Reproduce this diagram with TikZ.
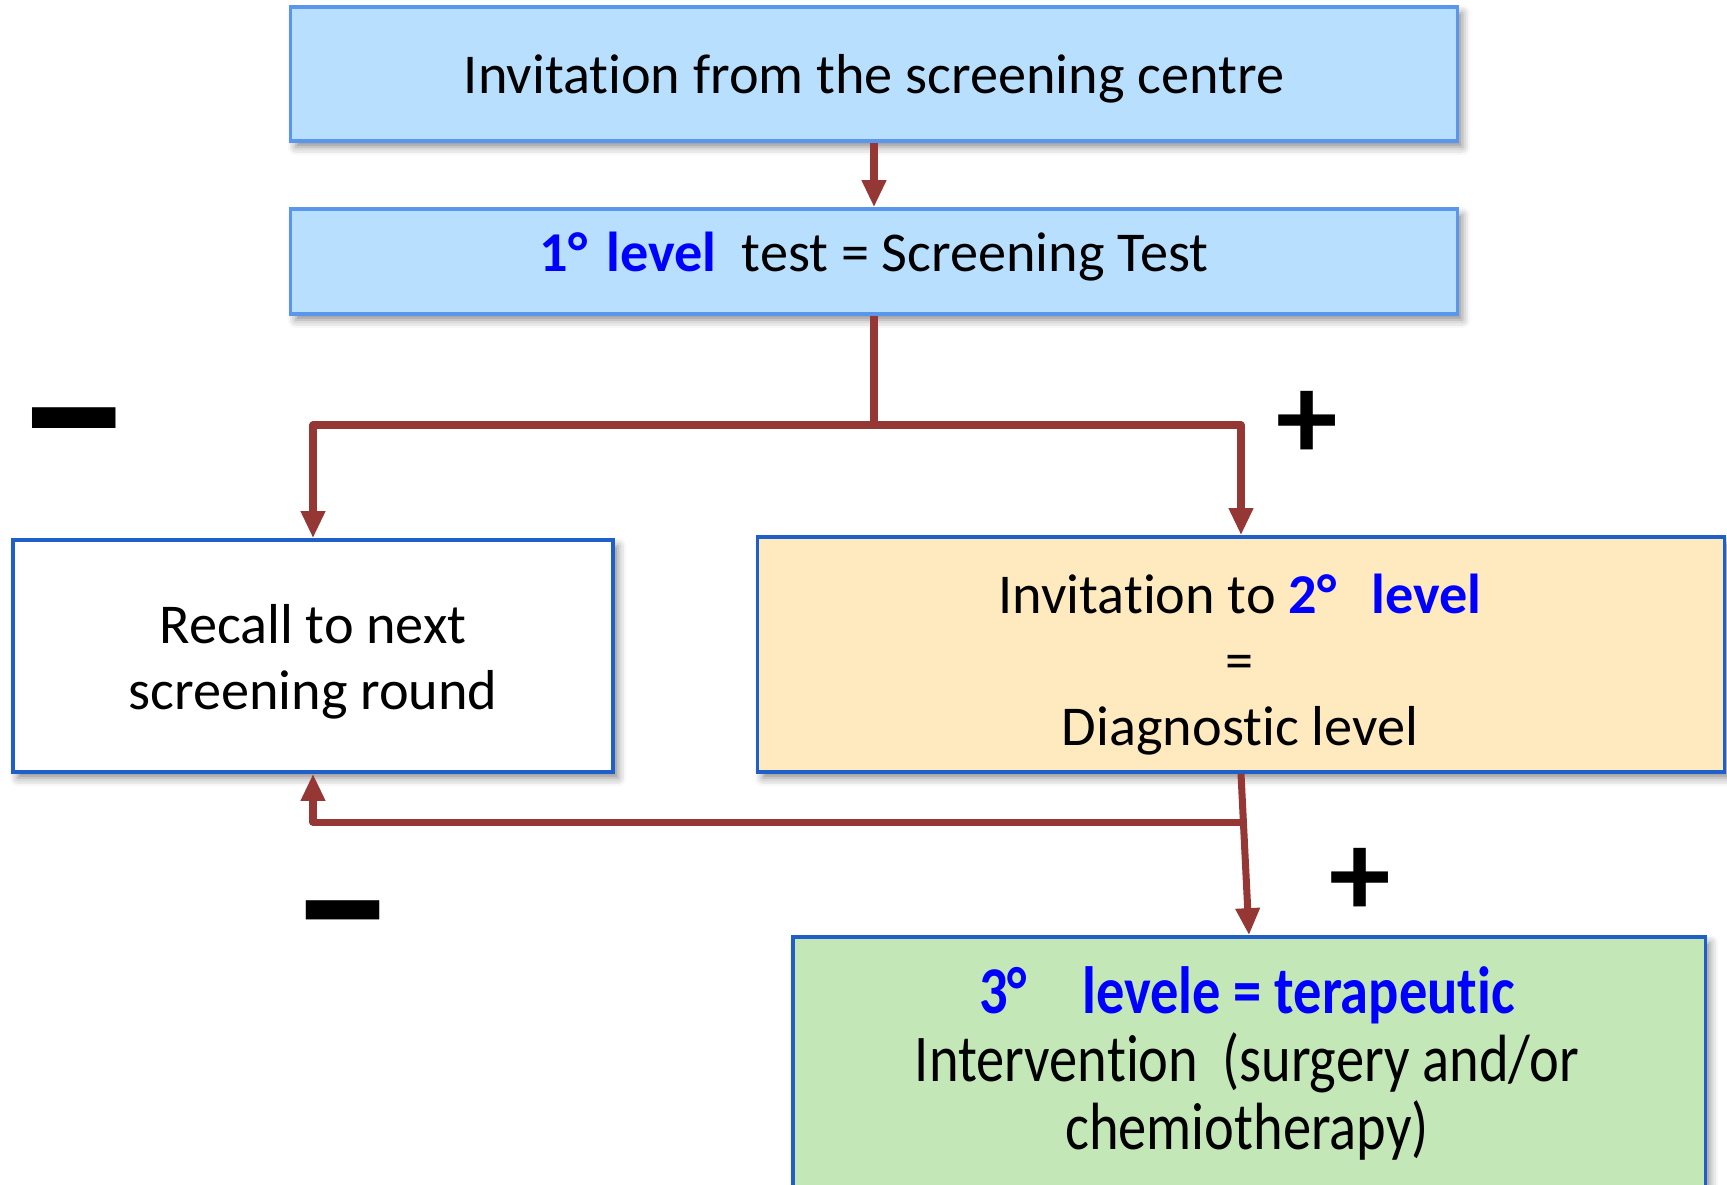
\documentclass[tikz,border=0pt]{standalone}
\usepackage{fontspec}
\setmainfont{Carlito}[Ligatures=NoCommon]
\newfontfamily\condfont[FakeStretch=0.845,Ligatures=NoCommon]{Carlito}
\usetikzlibrary{arrows.meta,shadows.blur}
\definecolor{arrowred}{HTML}{953735}
\definecolor{lvlblue}{HTML}{0000FF}
\definecolor{lightbord}{HTML}{5A96EC}
\definecolor{darkbord}{HTML}{1F5FC8}
\definecolor{fillblue}{HTML}{B9DFFF}
\definecolor{fillgold}{HTML}{FFE9BE}
\definecolor{fillgreen}{HTML}{C3E7B7}
\begin{document}
\begin{tikzpicture}[x=0.01cm,y=-0.01cm,
  box/.style={draw, line width=1pt, inner sep=0pt,
    blur shadow={shadow xshift=0.05cm, shadow yshift=-0.06cm, shadow blur radius=0.08cm, shadow opacity=45}},
  txt/.style={align=center, inner sep=0pt, font=\fontsize{16}{18.8}\selectfont},
  conn/.style={draw=arrowred, line width=2pt, line join=round,
    -{Triangle[width=0.23cm,length=0.27cm]}},
  plain/.style={draw=arrowred, line width=2pt, line join=round},
  signplus/.style={inner sep=0pt, font=\bfseries\fontsize{35}{35}\selectfont},
  signminus/.style={inner sep=0pt, font=\bfseries\fontsize{26}{26}\selectfont}
]
\useasboundingbox (0,0) rectangle (1727,1184);

\node[box, draw=lightbord, fill=fillblue, minimum width=11.66cm, minimum height=1.34cm] (b1) at (874,74) {};
\node[txt] (b1t) at (874,78.5) {Invitation from the screening centre};

\node[box, draw=lightbord, fill=fillblue, minimum width=11.66cm, minimum height=1.05cm] (b2) at (874,261.5) {};
\node[txt] (b2t) at (874,257) {{\color{lvlblue}\bfseries 1°\,\,level}\ \ test = Screening Test};

\node[box, draw=darkbord, fill=white, minimum width=6.00cm, minimum height=2.32cm] (rc) at (313,656) {};
\node[txt] (rct) at (313,661.5) {Recall to next\\screening round};

\node[box, draw=darkbord, fill=fillgold, minimum width=9.66cm, minimum height=2.35cm] (b4) at (1241,654.5) {};
\node[txt] (b4t) at (1240,664.5) {Invitation to {\color{lvlblue}\bfseries 2°\hspace{0.35cm}level}\\=\\Diagnostic level};

\node[box, draw=darkbord, fill=fillgreen, minimum width=9.12cm, minimum height=2.58cm] (b5) at (1249,1066) {};
\node[txt, font=\condfont\fontsize{19}{19.3}\selectfont] (b5t) at (1247,1063.5)
  {{\color{lvlblue}\bfseries 3°\hspace{0.55cm}levele = terapeutic}\\Intervention\ \,(surgery and/or\\chemiotherapy)};

\coordinate (j1) at (874,425);
\coordinate (j2) at (1244,822);

\draw[conn] (b1.south) -- (b2.north);
\draw[plain] (b2.south) -- (j1);
\draw[conn] (j1) -| (rc.north);
\draw[conn] (j1) -| (b4.north);
\draw[conn] (b4.south) -- (b5.north);
\draw[conn] (j2) -| (rc.south);

\node[signminus] (m1) at (74,447) {\scalebox{1.25}[2.6]{—}};
\node[signplus] (p1) at (1307,425) {+};
\node[signminus] (m2) at (343,937) {\scalebox{1.1}[2.4]{—}};
\node[signplus] (p2) at (1360,882) {+};
\end{tikzpicture}
\end{document}
